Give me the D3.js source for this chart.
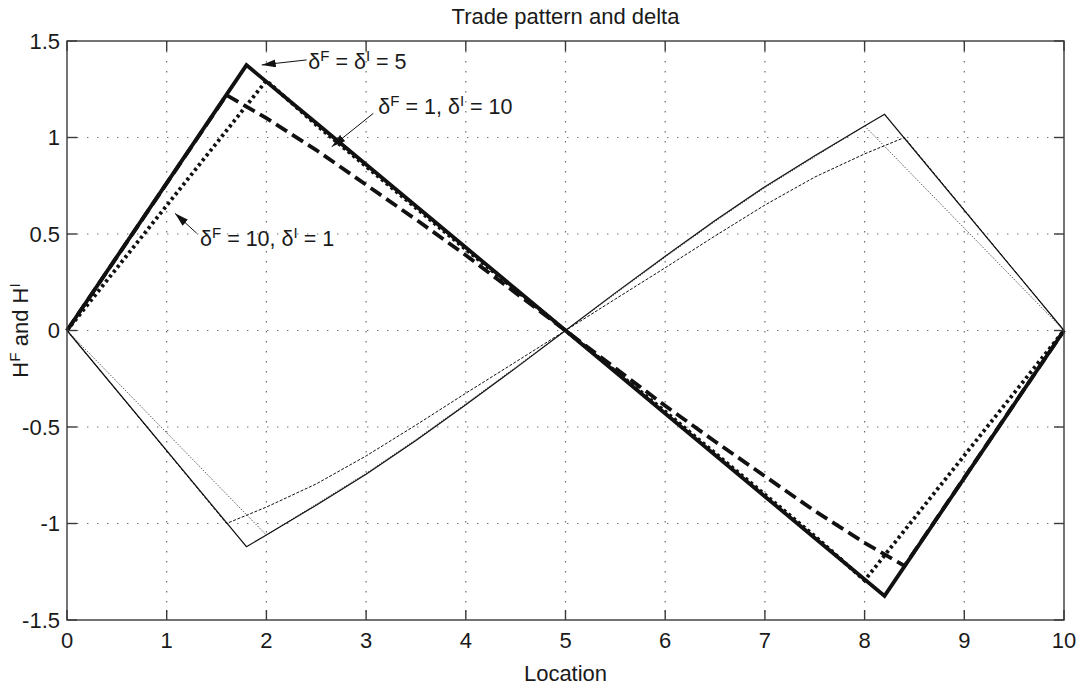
<!DOCTYPE html>
<html>
<head>
<meta charset="utf-8">
<script src="https://cdn.jsdelivr.net/npm/d3@7"></script>
<style>
  html, body { margin: 0; padding: 0; background: #fff; }
  svg { display: block; }
  text { font-family: "Liberation Sans", Arial, Helvetica, sans-serif; fill: #1a1a1a; }
</style>
</head>
<body>
<svg id="chart" width="1089" height="687"></svg>
<script>
// ---- data -------------------------------------------------------------
// Thick lines: H^F ; thin lines: H^I ; three (delta^F, delta^I) settings.
const hF_eq5_x  = [0, 1.8, 2.5, 3, 3.5, 4, 4.5, 5, 5.5, 6, 6.5, 7, 7.5, 8.2, 10];
const hF_eq5_y  = [0, 1.375, 1.075, 0.86, 0.645, 0.43, 0.215, 0, -0.215, -0.43, -0.645, -0.86, -1.075, -1.375, 0];

const hF_1_10_x = [0, 1.6, 2, 2.5, 3, 3.5, 4, 4.5, 5, 5.5, 6, 6.5, 7, 7.5, 8, 8.4, 10];
const hF_1_10_y = [0, 1.22, 1.10, 0.935, 0.755, 0.575, 0.39, 0.195, 0, -0.195, -0.39, -0.575, -0.755, -0.935, -1.10, -1.22, 0];

const hF_10_1_x = [0, 2, 2.5, 3, 3.5, 4, 4.5, 5, 5.5, 6, 6.5, 7, 7.5, 8, 10];
const hF_10_1_y = [0, 1.295, 1.065, 0.85, 0.635, 0.42, 0.21, 0, -0.21, -0.42, -0.635, -0.85, -1.065, -1.295, 0];

const hI_eq5_x  = [0, 1.8, 2, 2.5, 3, 3.5, 4, 4.5, 5, 5.5, 6, 6.5, 7, 7.5, 8, 8.2, 10];
const hI_eq5_y  = [0, -1.12, -1.06, -0.905, -0.745, -0.57, -0.385, -0.195, 0, 0.195, 0.385, 0.57, 0.745, 0.905, 1.06, 1.12, 0];

const hI_1_10_x = [0, 1.6, 2, 2.5, 3, 3.5, 4, 4.5, 5, 5.5, 6, 6.5, 7, 7.5, 8, 8.4, 10];
const hI_1_10_y = [0, -1.0, -0.915, -0.795, -0.65, -0.49, -0.325, -0.163, 0, 0.163, 0.325, 0.49, 0.65, 0.795, 0.915, 1.0, 0];

const hI_10_1_x = [0, 2, 2.5, 3, 3.5, 4, 4.5, 5, 5.5, 6, 6.5, 7, 7.5, 8, 10];
const hI_10_1_y = [0, -1.06, -0.9, -0.74, -0.565, -0.38, -0.19, 0, 0.19, 0.38, 0.565, 0.74, 0.9, 1.06, 0];

const xTicks = [0, 1, 2, 3, 4, 5, 6, 7, 8, 9, 10];
const yTicks = [-1.5, -1, -0.5, 0, 0.5, 1, 1.5];
const yTickLabels = ["-1.5", "-1", "-0.5", "0", "0.5", "1", "1.5"];

// annotation arrows: [tailX, tailY, tipX, tipY] in data units
const annotArrows = [
  [2.404, 1.402, 1.953, 1.376],
  [3.072, 1.125, 2.655, 0.952],
  [1.301, 0.504, 1.083, 0.607]
];
// annotation text anchors (left, baseline) in data units
const annotPos = [[2.42, 1.355], [3.123, 1.122], [1.334, 0.438]];
const annotText = [
  [["δ", 0], ["F", 1], [" = δ", 0], ["I", 1], [" = 5", 0]],
  [["δ", 0], ["F", 1], [" = 1, δ", 0], ["I", 1], [" = 10", 0]],
  [["δ", 0], ["F", 1], [" = 10, δ", 0], ["I", 1], [" = 1", 0]]
];

// ---- layout -----------------------------------------------------------
const svg = d3.select("#chart");
const L = 67, R = 1064, T = 41, B = 620;
const x = d3.scaleLinear().domain([0, 10]).range([L, R]);
const y = d3.scaleLinear().domain([-1.5, 1.5]).range([B, T]);

const zip = (xs, ys) => xs.map((v, i) => [v, ys[i]]);
const line = d3.line().x(d => x(d[0])).y(d => y(d[1]));

// grid
const grid = svg.append("g").attr("stroke", "#6e6e6e").attr("stroke-width", 1.2)
  .attr("stroke-dasharray", "1.4,8.6");
xTicks.slice(1, -1).forEach(t => grid.append("line")
  .attr("x1", x(t)).attr("x2", x(t)).attr("y1", T).attr("y2", B));
yTicks.slice(1, -1).forEach(t => grid.append("line")
  .attr("y1", y(t)).attr("y2", y(t)).attr("x1", L).attr("x2", R));

// series
const series = [
  { d: zip(hI_1_10_x, hI_1_10_y), w: 1.0, dash: "3,1.6" },
  { d: zip(hI_10_1_x, hI_10_1_y), w: 0.9, dash: "1,1.6" },
  { d: zip(hI_eq5_x,  hI_eq5_y),  w: 1.2, dash: null },
  { d: zip(hF_1_10_x, hF_1_10_y), w: 3.8, dash: "13,6" },
  { d: zip(hF_10_1_x, hF_10_1_y), w: 3.8, dash: "3,3.2" },
  { d: zip(hF_eq5_x,  hF_eq5_y),  w: 3.8, dash: null }
];
const plot = svg.append("g");
series.forEach(s => {
  plot.append("path").datum(s.d)
    .attr("d", line)
    .attr("fill", "none")
    .attr("stroke", "#111")
    .attr("stroke-width", s.w)
    .attr("stroke-linejoin", "miter")
    .attr("stroke-dasharray", s.dash);
});

// axes box with inward ticks on all sides
const axisColor = "#3a3a3a";
const tickLen = 10;
const ax = svg.append("g").attr("stroke", axisColor).attr("stroke-width", 1.4).attr("fill", "none");
ax.append("rect").attr("x", L).attr("y", T).attr("width", R - L).attr("height", B - T);
xTicks.forEach(t => {
  ax.append("line").attr("x1", x(t)).attr("x2", x(t)).attr("y1", B).attr("y2", B - tickLen);
  ax.append("line").attr("x1", x(t)).attr("x2", x(t)).attr("y1", T).attr("y2", T + tickLen);
});
yTicks.forEach(t => {
  ax.append("line").attr("y1", y(t)).attr("y2", y(t)).attr("x1", L).attr("x2", L + tickLen);
  ax.append("line").attr("y1", y(t)).attr("y2", y(t)).attr("x1", R).attr("x2", R - tickLen);
});

// tick labels
const fs = 22;
svg.append("g").selectAll("text").data(xTicks).join("text")
  .attr("x", d => x(d)).attr("y", 648)
  .attr("text-anchor", "middle").attr("font-size", fs)
  .text(d => d);
svg.append("g").selectAll("text").data(yTicks).join("text")
  .attr("x", 60).attr("y", d => y(d)).attr("dy", "0.36em")
  .attr("text-anchor", "end").attr("font-size", fs)
  .text((d, i) => yTickLabels[i]);

// rich text with superscripts
function richText(sel, parts, size) {
  let shifted = false;
  parts.forEach(([s, sup]) => {
    const ts = sel.append("tspan").text(s);
    if (sup && !shifted) { ts.attr("font-size", size * 0.7).attr("dy", -size * 0.36); shifted = true; }
    else if (!sup && shifted) { ts.attr("dy", size * 0.36); shifted = false; }
  });
}

// title and axis labels
svg.append("text").attr("x", (L + R) / 2).attr("y", 24)
  .attr("text-anchor", "middle").attr("font-size", 22)
  .text("Trade pattern and delta");
svg.append("text").attr("x", (L + R) / 2).attr("y", 681)
  .attr("text-anchor", "middle").attr("font-size", fs)
  .text("Location");
const yl = svg.append("text")
  .attr("transform", `translate(28,${(T + B) / 2}) rotate(-90)`)
  .attr("text-anchor", "middle").attr("font-size", fs);
richText(yl, [["H", 0], ["F", 1], [" and H", 0], ["I", 1]], fs);

// annotations
const defs = svg.append("defs");
defs.append("marker").attr("id", "head")
  .attr("markerUnits", "userSpaceOnUse")
  .attr("viewBox", "0 0 14 8").attr("refX", 14).attr("refY", 4)
  .attr("markerWidth", 14).attr("markerHeight", 8)
  .attr("orient", "auto")
  .append("path").attr("d", "M0,0 L14,4 L0,8 Z").attr("fill", "#111");

annotArrows.forEach(a => {
  svg.append("line")
    .attr("x1", x(a[0])).attr("y1", y(a[1]))
    .attr("x2", x(a[2])).attr("y2", y(a[3]))
    .attr("stroke", "#111").attr("stroke-width", 1)
    .attr("marker-end", "url(#head)");
});
const afs = 21.5;
annotPos.forEach((p, i) => {
  const t = svg.append("text").attr("x", x(p[0])).attr("y", y(p[1])).attr("font-size", afs);
  richText(t, annotText[i], afs);
});
</script>
</body>
</html>
